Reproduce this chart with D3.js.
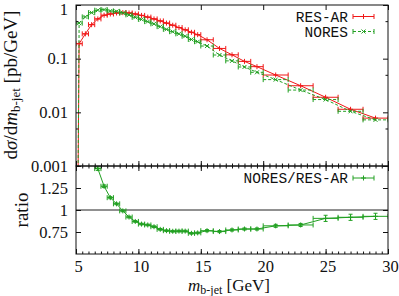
<!DOCTYPE html>
<html><head><meta charset="utf-8">
<script src="https://cdn.jsdelivr.net/npm/d3@7"></script>
<style>body{margin:0;background:#fff}svg{display:block}</style>
</head><body>
<svg id="c" width="399" height="296"></svg>
<script>
// ---- data ----
const mass = [5.25,5.75,6.25,6.75,7.25,7.75,8.25,8.75,9.25,9.75,10.25,10.75,11.25,11.75,12.25,12.75,13.25,13.75,14.25,14.75,15.5,16.5,17.5,18.5,19.5,21,23,25,27,29];
const binHalf = [0.25,0.25,0.25,0.25,0.25,0.25,0.25,0.25,0.25,0.25,0.25,0.25,0.25,0.25,0.25,0.25,0.25,0.25,0.25,0.25,0.5,0.5,0.5,0.5,0.5,1,1,1,1,1];
const resAR = [0.19,0.29,0.43,0.55,0.645,0.68,0.71,0.72,0.71,0.68,0.64,0.595,0.55,0.505,0.46,0.42,0.38,0.345,0.31,0.28,0.225,0.155,0.118,0.089,0.071,0.0496,0.0313,0.0191,0.0114,0.0078];
const nores = [0.46,0.60,0.72,0.80,0.82,0.775,0.76,0.713,0.655,0.59,0.54,0.49,0.445,0.395,0.352,0.318,0.29,0.262,0.228,0.207,0.172,0.117,0.091,0.070,0.0557,0.0407,0.026,0.0173,0.01045,0.00724];
const ratio = [2.42,2.07,1.67,1.47,1.27,1.14,1.07,0.99,0.92,0.87,0.84,0.83,0.81,0.78,0.765,0.758,0.76,0.76,0.735,0.74,0.765,0.755,0.773,0.784,0.784,0.82,0.83,0.905,0.917,0.928];
const ratioErr = [0.05,0.04,0.03,0.02,0.015,0.012,0.01,0.01,0.01,0.01,0.01,0.01,0.01,0.01,0.01,0.01,0.01,0.01,0.01,0.01,0.012,0.012,0.012,0.012,0.012,0.017,0.017,0.035,0.035,0.035];
const xTicks = [5,10,15,20,25,30];
const xTickLabels = ["5","10","15","20","25","30"];
const xMinor = d3.range(5,30.01,0.5);
const yTopTicks = [1,0.1,0.01,0.001];
const yTopLabels = ["1","0.1","0.01","0.001"];
const yTopMinor = [0.5,0.05,0.005];
const yBotTicks = [1.25,1,0.75];
const yBotLabels = ["1.25","1","0.75"];
const seriesNames = ["RES-AR","NORES","NORES/RES-AR"];

const RED = "#f01818", GREEN = "#22a022";
const SERIF = '"Liberation Serif"', MONO = '"Liberation Mono"';
const svg = d3.select("#c");
const x = d3.scaleLinear().domain([5,30]).range([76,388]);
const yTop = d3.scaleLog().domain([0.001,1]).range([166,5]);
const yBot = d3.scaleLinear().domain([0.5,1.5]).range([254,166]);

const defs = svg.append("defs");
defs.append("clipPath").attr("id","cTop").append("rect").attr("x",76).attr("y",5).attr("width",312).attr("height",161);
defs.append("clipPath").attr("id","cBot").append("rect").attr("x",76).attr("y",166).attr("width",312).attr("height",88);

const idx = d3.range(mass.length);

function drawXErr(g, ys, col, dash){
  idx.forEach(i=>{
    const y0 = ys(i), xl = x(mass[i]-binHalf[i]), xr = x(mass[i]+binHalf[i]);
    g.append("line").attr("x1",xl).attr("x2",xr).attr("y1",y0).attr("y2",y0)
      .attr("stroke",col).attr("stroke-width",1).attr("stroke-dasharray",dash||null);
    [xl,xr].forEach(xx=>g.append("line").attr("x1",xx).attr("x2",xx).attr("y1",y0-2.5).attr("y2",y0+2.5).attr("stroke",col).attr("stroke-width",1));
  });
}
function plus(g,cx,cy,col,s){
  g.append("path").attr("d",`M${cx-s},${cy}H${cx+s}M${cx},${cy-s}V${cy+s}`).attr("stroke",col).attr("stroke-width",1).attr("fill","none");
}
function cross(g,cx,cy,col,s){
  g.append("path").attr("d",`M${cx-s},${cy-s}L${cx+s},${cy+s}M${cx-s},${cy+s}L${cx+s},${cy-s}`).attr("stroke",col).attr("stroke-width",1).attr("fill","none");
}

// ---- top panel ----
const gTop = svg.append("g").attr("clip-path","url(#cTop)");
{
  const pts = idx.map(i=>[x(mass[i]), yTop(resAR[i])]);
  pts.unshift([x(mass[0])-1, yTop.range()[0]+2]);
  gTop.append("path").attr("d",d3.line()(pts)).attr("fill","none").attr("stroke",RED).attr("stroke-width",1);
  drawXErr(gTop, i=>yTop(resAR[i]), RED);
  idx.forEach(i=>plus(gTop,x(mass[i]),yTop(resAR[i]),RED,2.5));
}
{
  const pts = idx.map(i=>[x(mass[i]), yTop(nores[i])]);
  pts.unshift([x(mass[0])-1, yTop.range()[0]+2]);
  gTop.append("path").attr("d",d3.line()(pts)).attr("fill","none").attr("stroke",GREEN).attr("stroke-width",1).attr("stroke-dasharray","3,2");
  drawXErr(gTop, i=>yTop(nores[i]), GREEN, "3,2");
  idx.forEach(i=>cross(gTop,x(mass[i]),yTop(nores[i]),GREEN,2));
}

// ---- bottom panel ----
const gBot = svg.append("g").attr("clip-path","url(#cBot)");
gBot.append("line").attr("x1",x(5)).attr("x2",x(30)).attr("y1",yBot(1)).attr("y2",yBot(1)).attr("stroke","#222").attr("stroke-width",1);
gBot.append("path").attr("d",d3.line()(idx.map(i=>[x(mass[i]),yBot(ratio[i])]))).attr("fill","none").attr("stroke",GREEN).attr("stroke-width",1);
drawXErr(gBot, i=>yBot(ratio[i]), GREEN);
idx.forEach(i=>{
  const cx=x(mass[i]), y1=yBot(ratio[i]-ratioErr[i]), y2=yBot(ratio[i]+ratioErr[i]);
  gBot.append("path").attr("d",`M${cx},${y1}V${y2}M${cx-2},${y1}H${cx+2}M${cx-2},${y2}H${cx+2}`).attr("stroke",GREEN).attr("stroke-width",1).attr("fill","none");
  plus(gBot,cx,yBot(ratio[i]),GREEN,2.5);
});

// ---- axes ----
function styleAxis(g){
  g.attr("font-family",null).attr("font-size",null);
  g.select(".domain").remove();
  g.selectAll(".tick line").attr("stroke","#111");
  g.selectAll("text").style("font-family",SERIF).style("font-size","16.5px").attr("fill","#111");
}
svg.append("g").attr("transform","translate(76,0)").call(d3.axisLeft(yTop).tickValues(yTopTicks).tickSize(-5).tickPadding(8).tickFormat((d,i)=>yTopLabels[i])).call(styleAxis)
  .selectAll("text").filter(d=>d===1).attr("dy","0.55em");
svg.append("g").attr("transform","translate(76,0)").call(d3.axisLeft(yTop).tickValues(yTopMinor).tickSize(-2.5).tickFormat("")).call(styleAxis);
svg.append("g").attr("transform","translate(388,0)").call(d3.axisRight(yTop).tickValues(yTopTicks).tickSize(-5).tickFormat("")).call(styleAxis);
svg.append("g").attr("transform","translate(388,0)").call(d3.axisRight(yTop).tickValues(yTopMinor).tickSize(-2.5).tickFormat("")).call(styleAxis);
svg.append("g").attr("transform","translate(0,5)").call(d3.axisTop(x).tickValues(xTicks).tickSize(-5).tickFormat("")).call(styleAxis);
svg.append("g").attr("transform","translate(0,166)").call(d3.axisBottom(x).tickValues(xTicks).tickSize(-5).tickFormat("")).call(styleAxis);
svg.append("g").attr("transform","translate(0,166)").call(d3.axisBottom(x).tickValues(xMinor).tickSize(-2.5).tickFormat("")).call(styleAxis);
svg.append("g").attr("transform","translate(0,166)").call(d3.axisTop(x).tickValues(xTicks).tickSize(-5).tickFormat("")).call(styleAxis);
svg.append("g").attr("transform","translate(0,166)").call(d3.axisTop(x).tickValues(xMinor).tickSize(-2.5).tickFormat("")).call(styleAxis);
svg.append("g").attr("transform","translate(0,254)").call(d3.axisBottom(x).tickValues(xTicks).tickSize(-5).tickPadding(6).tickFormat((d,i)=>xTickLabels[i])).call(styleAxis)
  .selectAll("text").attr("dx",2);
svg.append("g").attr("transform","translate(0,254)").call(d3.axisBottom(x).tickValues(xMinor).tickSize(-2.5).tickFormat("")).call(styleAxis);
svg.append("g").attr("transform","translate(76,0)").call(d3.axisLeft(yBot).tickValues(yBotTicks).tickSize(-5).tickPadding(8).tickFormat((d,i)=>yBotLabels[i])).call(styleAxis);
svg.append("g").attr("transform","translate(388,0)").call(d3.axisRight(yBot).tickValues(yBotTicks).tickSize(-5).tickFormat("")).call(styleAxis);

svg.append("rect").attr("x",76).attr("y",5).attr("width",312).attr("height",161).attr("fill","none").attr("stroke","#111").attr("stroke-width",1);
svg.append("rect").attr("x",76).attr("y",166).attr("width",312).attr("height",88).attr("fill","none").attr("stroke","#111").attr("stroke-width",1);

// ---- legends ----
function legend(yc, name, col, dash, marker){
  svg.append("text").attr("x",348).attr("y",yc+5).attr("text-anchor","end").style("font-family",MONO).style("font-size","14.5px").attr("fill","#111").text(name);
  const g = svg.append("g");
  g.append("line").attr("x1",353).attr("x2",374).attr("y1",yc).attr("y2",yc).attr("stroke",col).attr("stroke-dasharray",dash||null);
  [353,374].forEach(xx=>g.append("line").attr("x1",xx).attr("x2",xx).attr("y1",yc-2.5).attr("y2",yc+2.5).attr("stroke",col));
  marker(g,363.5,yc,col,marker===cross?2:2.5);
}
legend(16.5, seriesNames[0], RED, null, plus);
legend(31.5, seriesNames[1], GREEN, "3,2", cross);
legend(178, seriesNames[2], GREEN, null, plus);

// ---- axis titles ----
const yt = svg.append("text").attr("transform","translate(17,85) rotate(-90)").attr("text-anchor","middle")
  .style("font-family",SERIF).style("font-size","19px").attr("fill","#111");
yt.append("tspan").text("d");
yt.append("tspan").style("font-style","italic").text("σ");
yt.append("tspan").text("/d");
yt.append("tspan").style("font-style","italic").text("m");
yt.append("tspan").style("font-size","13px").attr("dy",3).text("b-jet");
yt.append("tspan").attr("dy",-3).text(" [pb/GeV]");

svg.append("text").attr("transform","translate(28,210) rotate(-90)").attr("text-anchor","middle")
  .style("font-family",SERIF).style("font-size","19px").attr("fill","#111").text("ratio");

const xt = svg.append("text").attr("x",229).attr("y",291).attr("text-anchor","middle")
  .style("font-family",SERIF).style("font-size","17px").attr("fill","#111");
xt.append("tspan").style("font-style","italic").text("m");
xt.append("tspan").style("font-size","12px").attr("dy",3).text("b-jet");
xt.append("tspan").attr("dy",-3).text(" [GeV]");
</script>
</body></html>
